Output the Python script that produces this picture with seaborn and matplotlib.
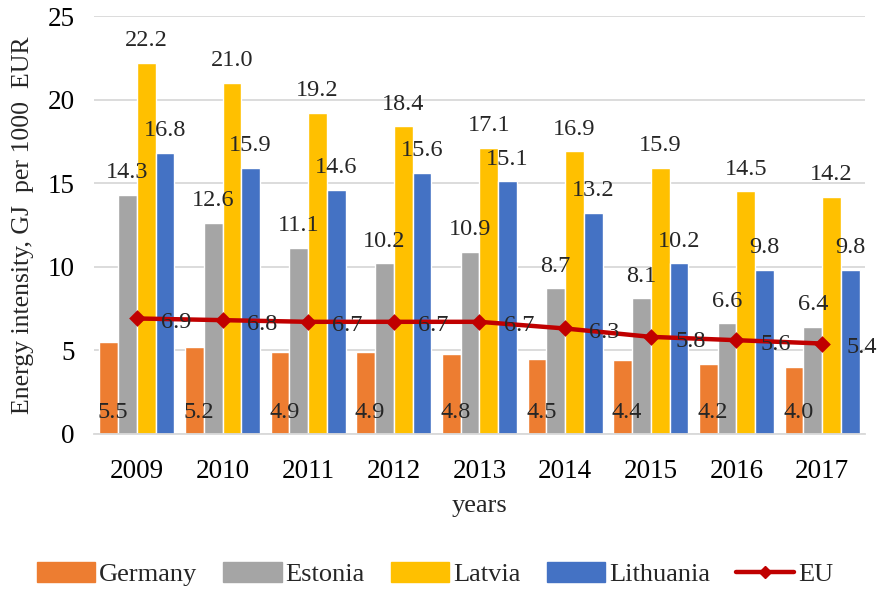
import numpy as np
import pandas as pd
import matplotlib
matplotlib.use("Agg")
import matplotlib.pyplot as plt
import seaborn as sns
from matplotlib.patches import Patch
from matplotlib.lines import Line2D

years = ["2009", "2010", "2011", "2012", "2013", "2014", "2015", "2016", "2017"]
germany = [5.5, 5.2, 4.9, 4.9, 4.8, 4.5, 4.4, 4.2, 4.0]
estonia = [14.3, 12.6, 11.1, 10.2, 10.9, 8.7, 8.1, 6.6, 6.4]
latvia = [22.2, 21.0, 19.2, 18.4, 17.1, 16.9, 15.9, 14.5, 14.2]
lithuania = [16.8, 15.9, 14.6, 15.6, 15.1, 13.2, 10.2, 9.8, 9.8]
eu = [6.9, 6.8, 6.7, 6.7, 6.7, 6.3, 5.8, 5.6, 5.4]
countries = ["Germany", "Estonia", "Latvia", "Lithuania"]
colors = ["#ED7D31", "#A5A5A5", "#FFC000", "#4472C4"]

sns.set_theme(style="white")
plt.rcParams["font.family"] = ["Liberation Serif", "DejaVu Serif"]

rows = []
for c, vals in zip(countries, [germany, estonia, latvia, lithuania]):
    for y, v in zip(years, vals):
        rows.append({"year": y, "country": c, "value": v})
df = pd.DataFrame(rows)
df_eu = pd.DataFrame({"year": years, "value": eu})

fig = plt.figure(figsize=(8.79, 5.95), dpi=100)
ax = fig.add_axes([0.107, 0.271, 0.877, 0.702])

sns.barplot(data=df, x="year", y="value", hue="country", order=years,
            hue_order=countries, palette=colors, width=0.876, gap=0,
            saturation=1, ax=ax, legend=False, zorder=2)

sns.pointplot(data=df_eu, x="year", y="value", order=years, color="#C00000",
              markers="D", markersize=6, linewidth=3.2, ax=ax, zorder=4)

ax.set_ylim(0, 25)
ax.set_yticks([0, 5, 10, 15, 20, 25])
ax.grid(axis="y", color="#D9D9D9", linewidth=1.3, zorder=0)
ax.set_axisbelow(True)
for s in ["left", "right", "top"]:
    ax.spines[s].set_visible(False)
ax.spines["bottom"].set_color("#D9D9D9")
ax.spines["bottom"].set_linewidth(1.3)
ax.tick_params(axis="both", labelsize=19.5, colors="black", length=0)
ax.tick_params(axis="x", pad=18)
ax.tick_params(axis="y", pad=14)
ax.set_xlabel("years", fontsize=19, labelpad=8)
ax.set_ylabel("Energy intensity, GJ  per 1000  EUR", fontsize=18.5, labelpad=10)

lab_fs = 17.5
for p, v in zip(ax.containers[0], germany):
    ax.text(p.get_x() + p.get_width() / 2 + 0.05, 1.3, f"{v:.1f}", ha="center",
            va="center", fontsize=lab_fs, zorder=5)
for cont, vals in zip(ax.containers[1:4], [estonia, latvia, lithuania]):
    ax.bar_label(cont, labels=[f"{v:.1f}" for v in vals], padding=8.5,
                 fontsize=lab_fs, zorder=5)
for i, v in enumerate(eu):
    ax.text(i + 0.46, v - 0.25, f"{v:.1f}", ha="center", va="center",
            fontsize=lab_fs, zorder=5)

handles = [Patch(facecolor=c, edgecolor=c) for c in colors]
handles.append(Line2D([0], [0], color="#C00000", lw=3.2, marker="D", markersize=6))
fig.legend(handles, countries + ["EU"], loc="lower center", ncol=5,
           bbox_to_anchor=(0.495, -0.025), frameon=False, fontsize=19,
           handlelength=2.2, handleheight=0.75, columnspacing=1.0,
           handletextpad=0.15)

fig.savefig("out.png", dpi=100)
